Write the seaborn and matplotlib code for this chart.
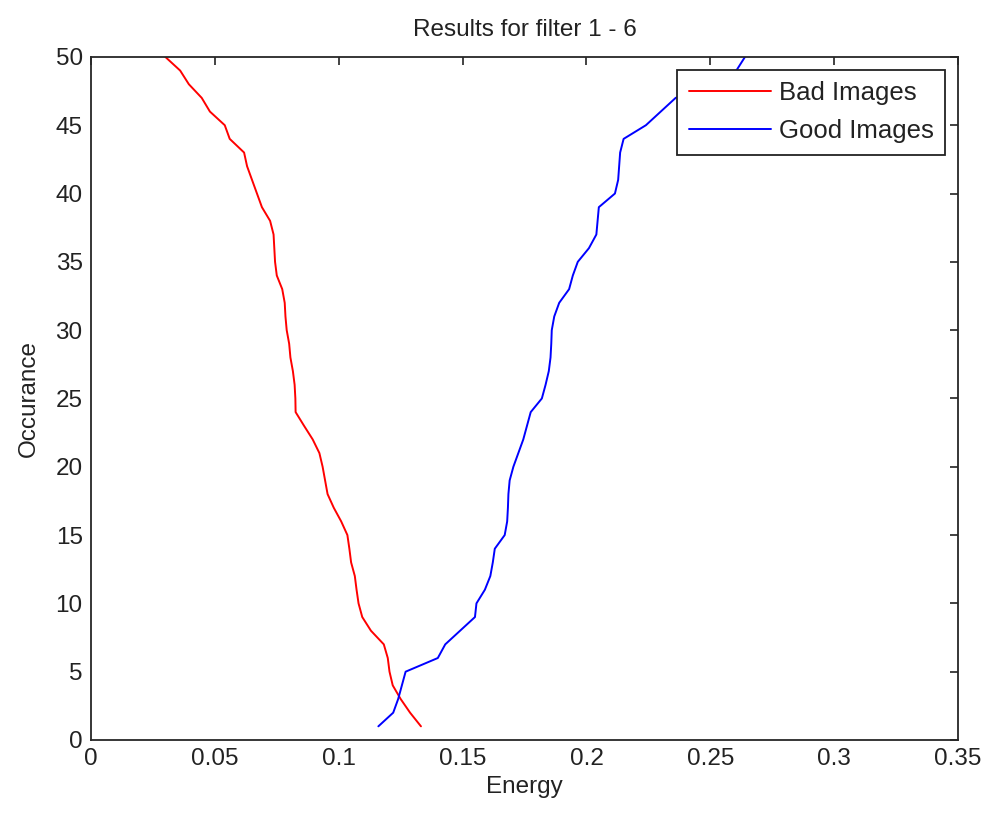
import matplotlib
matplotlib.use("Agg")
import matplotlib.pyplot as plt
import seaborn as sns
import pandas as pd

# Occurrence counts (y) and energies (x)
occurance = [1, 2, 3, 4, 5, 6, 7, 8, 9, 10,
             11, 12, 13, 14, 15, 16, 17, 18, 19, 20,
             21, 22, 23, 24, 25, 26, 27, 28, 29, 30,
             31, 32, 33, 34, 35, 36, 37, 38, 39, 40,
             41, 42, 43, 44, 45, 46, 47, 48, 49, 50]

bad_energy = [0.1332, 0.1288, 0.1250, 0.1218, 0.1205, 0.1198, 0.1182, 0.1130, 0.1095, 0.1080,
              0.1072, 0.1065, 0.1050, 0.1043, 0.1035, 0.1010, 0.0980, 0.0955, 0.0945, 0.0935,
              0.0922, 0.0895, 0.0860, 0.0826, 0.0825, 0.0822, 0.0815, 0.0805, 0.0800, 0.0790,
              0.0785, 0.0782, 0.0772, 0.0750, 0.0743, 0.0740, 0.0737, 0.0723, 0.0690, 0.0670,
              0.0650, 0.0630, 0.0618, 0.0560, 0.0540, 0.0480, 0.0447, 0.0395, 0.0360, 0.0300]

good_energy = [0.1160, 0.1220, 0.1240, 0.1255, 0.1270, 0.1400, 0.1430, 0.1490, 0.1550, 0.1556,
               0.1590, 0.1612, 0.1622, 0.1630, 0.1670, 0.1680, 0.1683, 0.1685, 0.1690, 0.1705,
               0.1725, 0.1745, 0.1760, 0.1775, 0.1820, 0.1835, 0.1848, 0.1855, 0.1858, 0.1860,
               0.1870, 0.1890, 0.1930, 0.1945, 0.1965, 0.2010, 0.2040, 0.2045, 0.2050, 0.2115,
               0.2128, 0.2132, 0.2136, 0.2150, 0.2240, 0.2300, 0.2360, 0.2500, 0.2605, 0.2640]

series_names = ["Bad Images", "Good Images"]
series_colors = ["#ff0000", "#0000ff"]

x_ticks = [0, 0.05, 0.1, 0.15, 0.2, 0.25, 0.3, 0.35]
x_tick_labels = ["0", "0.05", "0.1", "0.15", "0.2", "0.25", "0.3", "0.35"]
y_ticks = [0, 5, 10, 15, 20, 25, 30, 35, 40, 45, 50]

sns.set_style("white")
plt.rcParams["font.family"] = ["Liberation Sans", "DejaVu Sans"]

df = pd.concat([
    pd.DataFrame({"Energy": bad_energy, "Occurance": occurance, "series": series_names[0]}),
    pd.DataFrame({"Energy": good_energy, "Occurance": occurance, "series": series_names[1]}),
], ignore_index=True)

fig = plt.figure(figsize=(9.89, 8.13), dpi=100)
ax = fig.add_axes([0.092, 0.0898, 0.8767, 0.8402])

sns.lineplot(data=df, x="Energy", y="Occurance", hue="series",
             palette=series_colors, sort=False, estimator=None,
             linewidth=1.4, ax=ax)

ax.set_xlim(0, 0.35)
ax.set_ylim(0, 50)
ax.set_xticks(x_ticks)
ax.set_xticklabels(x_tick_labels)
ax.set_yticks(y_ticks)

fs = 17.5
ax.tick_params(direction="in", length=6, width=1.2, top=True, right=True,
               labelsize=fs, pad=6, colors="#222222")
for s in ax.spines.values():
    s.set_linewidth(1.3)
    s.set_color("#262626")
    s.set_visible(True)

ax.set_xlabel("Energy", fontsize=fs, labelpad=4, color="#222222")
ax.set_ylabel("Occurance", fontsize=fs, labelpad=11, color="#222222")
ax.set_title("Results for filter 1 - 6", fontsize=fs, pad=15, color="#222222")

leg = ax.legend(loc="upper right", fontsize=18.5, frameon=True, fancybox=False,
                framealpha=1, edgecolor="#222222", handlelength=3.2,
                handletextpad=0.3, labelspacing=0.55, borderaxespad=0.5,
                borderpad=0.45)
leg.get_frame().set_linewidth(1.3)
for t in leg.get_texts():
    t.set_color("#222222")

fig.savefig("out.png", dpi=100, facecolor="white")
